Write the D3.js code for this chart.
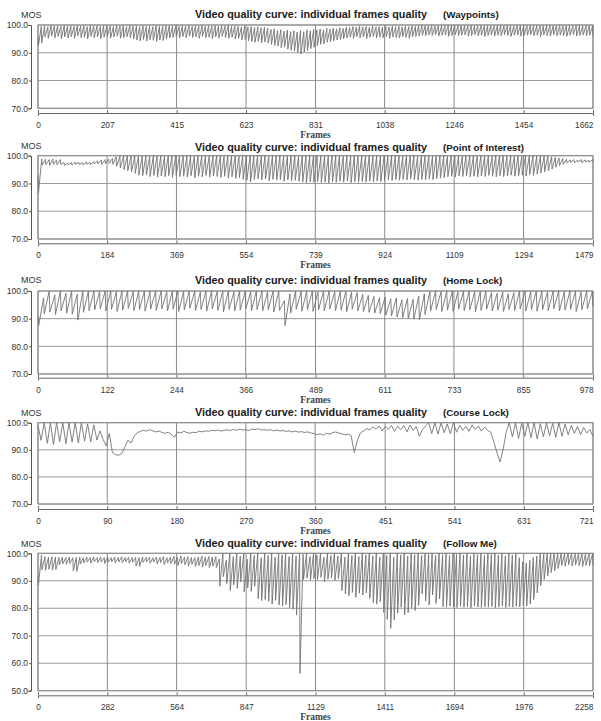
<!DOCTYPE html>
<html>
<head>
<meta charset="utf-8">
<style>
	body{margin:0;background:#fff;}
	svg{display:block;font-family:"Liberation Sans",Arial,sans-serif;}
</style>
</head>
<body>
<script src="https://d3js.org/d3.v7.min.js"></script>
<script>
// ---- data ----
let mainTitle = "Video quality curve: individual frames quality"
let scenarios = ["(Waypoints)", "(Point of Interest)", "(Home Lock)", "(Course Lock)", "(Follow Me)"]
let frameTotals = [1662, 1479, 978, 721, 2258]
let xTickLabels = [
	[0, 207, 415, 623, 831, 1038, 1246, 1454, 1662],
	[0, 184, 369, 554, 739, 924, 1109, 1294, 1479],
	[0, 122, 244, 366, 489, 611, 733, 855, 978],
	[0, 90, 180, 270, 360, 451, 541, 631, 721],
	[0, 282, 564, 847, 1129, 1411, 1694, 1976, 2258]
]
let yTickValues = [
	[70, 80, 90, 100],
	[70, 80, 90, 100],
	[70, 80, 90, 100],
	[70, 80, 90, 100],
	[50, 60, 70, 80, 90, 100]
]

// MOS samples: peak / dip pairs per GOP (Course Lock: plain samples)
let mosWaypoints = [
	95.5,92.5, 99.5,93.5, 99.7,95.8, 99.4,95.2, 99.8,96.0, 99.6,95.4, 99.7,95.9, 99.5,95.1, 99.8,95.7, 99.6,95.3,
	99.7,95.8, 99.5,95.2, 99.8,96.1, 99.6,95.5, 99.7,95.6, 99.4,95.0, 99.8,95.9, 99.6,95.4, 99.7,95.7, 99.5,95.1,
	99.8,95.6, 99.6,95.9, 99.7,95.3, 99.5,95.7, 99.8,96.0, 99.6,95.2, 99.7,95.5, 99.4,95.8, 99.8,95.4, 99.6,95.0,
	99.6,94.6, 99.4,94.3, 99.7,94.8, 99.5,94.2, 99.6,94.7, 99.4,94.5, 99.7,94.1, 99.5,94.6, 99.6,94.4, 99.7,94.9,
	99.7,95.3, 99.6,95.5, 99.8,95.9, 99.5,95.3, 99.7,95.8, 99.6,95.4, 99.8,96.0, 99.5,95.5, 99.7,95.7, 99.6,95.2,
	99.8,95.9, 99.5,95.4, 99.7,95.6, 99.6,95.1, 99.8,95.7, 99.5,95.3, 99.7,95.9, 99.6,95.5, 99.8,95.2, 99.5,95.6,
	99.6,95.0, 99.5,95.2, 99.3,94.6, 99.6,94.8, 99.2,94.3, 99.4,94.0, 99.1,93.8, 99.3,94.1, 99.0,93.6, 99.2,93.9,
	98.8,93.5, 98.4,93.0, 98.6,92.6, 98.0,92.4, 98.3,91.8, 97.8,92.0, 98.2,91.3, 97.6,90.9, 97.9,90.6, 97.5,90.1,
	98.0,89.6, 97.6,90.2, 98.3,90.8, 97.9,91.5, 98.5,92.0, 98.2,92.5, 98.6,93.0, 98.3,93.2, 98.8,93.8, 98.5,94.0,
	98.9,94.3, 98.6,94.6, 99.0,94.8, 98.8,95.0, 99.3,95.3, 99.1,95.6, 99.4,95.2, 99.2,95.8, 99.5,95.4, 99.3,95.7,
	99.4,95.1, 99.2,95.6, 99.5,95.9, 99.3,95.3, 99.4,95.6, 99.2,95.4, 99.5,95.8, 99.3,95.2, 99.6,95.7, 99.4,95.5,
	99.5,95.3, 99.3,95.8, 99.6,95.5, 99.4,95.2, 99.6,95.7, 99.5,95.9, 99.7,96.0, 99.8,96.3, 99.7,96.1, 99.8,96.4,
	99.8,96.2, 99.7,96.5, 99.8,96.0, 99.8,96.3, 99.7,96.4, 99.8,95.9, 99.8,96.2, 99.7,96.5, 99.8,96.1, 99.8,96.3,
	99.7,96.4, 99.8,96.0, 99.8,96.2, 99.7,96.5, 99.8,96.1, 99.8,96.3, 99.7,95.8, 99.8,96.2, 99.8,96.4, 99.7,96.0,
	99.8,96.3, 99.8,96.1, 99.7,96.5, 99.8,96.2, 99.8,95.9, 99.7,96.3, 99.8,96.4, 99.8,96.0, 99.7,96.2, 99.8,96.3,
	99.8,96.5, 99.7,96.1, 99.8,96.3, 99.8,95.8, 99.7,96.4, 99.8,96.2, 99.8,96.0, 99.7,96.5, 99.8,96.1, 99.8,96.4,
	99.7,96.2, 99.8,95.9, 99.8,96.3, 99.7,96.5, 99.8,96.0, 99.8,96.2, 99.7,96.4, 99.8,96.1, 99.8,96.3, 99.7,96.0
]
let mosPointOfInterest = [
	93.0,86.5, 98.8,96.6, 98.7,96.8, 98.6,96.5, 98.8,96.9, 98.5,96.7, 98.6,96.8, 97.6,96.5, 97.4,96.7, 97.5,96.6,
	97.7,96.9, 97.6,96.8, 97.5,96.6, 97.8,96.9, 97.6,96.7, 97.9,97.0, 98.2,97.0, 98.5,96.8, 98.6,97.1, 98.8,97.2,
	99.0,96.9, 99.6,96.2, 99.8,95.6, 99.9,95.0, 100,94.6, 100,94.2, 99.9,93.6, 100,93.0, 99.8,92.8, 100,93.0,
	99.8,92.5, 100,92.9, 99.9,92.3, 100,92.7, 99.8,92.4, 100,92.8, 99.9,92.2, 100,92.9, 99.8,92.5, 100,92.6,
	99.9,92.3, 100,92.8, 99.8,92.1, 100,92.6, 99.9,92.4, 100,92.9, 99.8,92.3, 100,92.7, 99.9,92.5, 100,92.2,
	99.8,92.6, 100,92.0, 99.9,92.4, 100,91.8, 99.8,92.1, 100,91.5, 99.9,91.2, 100,90.6, 99.8,91.4, 100,91.7,
	99.9,91.3, 100,91.6, 99.8,91.0, 100,91.5, 99.9,91.2, 100,91.4, 99.8,90.8, 100,91.3, 99.9,90.9, 100,91.1,
	99.8,90.8, 100,90.5, 99.9,90.3, 100,90.6, 99.8,90.4, 100,90.7, 99.9,90.3, 100,90.5, 99.8,90.2, 100,90.6,
	99.9,90.4, 100,90.8, 99.8,90.5, 100,90.9, 99.9,90.3, 100,90.6, 99.8,90.4, 100,90.7, 99.9,90.5, 100,90.8,
	99.8,90.6, 100,90.9, 99.9,90.7, 100,91.0, 99.8,91.3, 100,91.1, 99.9,91.4, 100,91.2, 99.8,91.5, 100,91.3,
	99.9,91.6, 100,91.4, 99.8,91.2, 100,91.5, 99.9,91.3, 100,91.6, 99.8,91.4, 100,91.7, 99.9,91.9, 100,92.1,
	99.8,92.4, 100,92.6, 99.9,92.3, 100,92.7, 99.8,92.5, 100,92.8, 99.9,92.4, 100,92.6, 99.8,92.3, 100,92.7,
	99.9,92.5, 100,92.9, 99.8,92.6, 100,92.4, 99.9,92.8, 100,92.5, 99.8,92.7, 100,93.0, 99.9,92.6, 100,92.8,
	99.8,93.0, 100,92.7, 99.9,93.2, 100,92.9, 99.8,93.4, 100,93.8, 99.9,94.2, 99.8,94.6, 99.6,95.2, 99.4,95.8,
	99.2,96.4, 99.0,96.9, 98.7,97.4, 98.5,97.6, 98.6,97.5, 98.4,97.7, 98.6,97.5, 98.5,97.8, 98.3,97.6, 98.6,97.8
]
let mosHomeLock = [
	91.0,87.5, 97.5,91.8, 100,92.4, 98.6,91.5, 100,92.8, 99.2,92.0, 100,91.6, 98.8,89.5, 100,92.3, 100,92.9,
	100,93.2, 99.8,93.6, 100,92.8, 100,93.4, 99.7,92.6, 100,93.1, 100,93.7, 99.8,92.9, 100,93.3, 100,92.7,
	99.8,93.5, 100,93.0, 100,93.6, 99.7,92.8, 100,93.4, 100,92.6, 99.8,93.2, 100,93.8, 100,92.9, 99.7,93.3,
	100,92.7, 100,93.5, 99.8,93.0, 100,92.5, 100,93.4, 99.7,92.8, 100,93.1, 100,93.6, 99.8,92.9, 100,93.3,
	100,92.8, 99.7,93.2, 100,92.4, 100,93.0, 96.5,87.5, 99.0,92.0, 100,93.4, 99.8,92.7, 100,93.2, 100,92.6,
	99.7,93.3, 100,92.8, 100,93.5, 99.8,92.9, 100,93.1, 100,92.5, 99.6,93.4, 99.4,92.8, 98.8,92.6, 98.4,92.3,
	98.0,92.0, 97.6,91.8, 97.8,91.3, 97.2,91.0, 97.5,90.6, 96.8,90.4, 97.3,90.1, 97.0,89.8, 98.2,89.6, 99.0,91.5,
	100,92.8, 100,93.3, 99.8,92.6, 100,93.1, 100,92.7, 99.7,93.4, 100,92.9, 100,93.2, 99.8,92.5, 100,93.0,
	100,93.4, 99.5,92.8, 99.2,93.1, 99.6,92.6, 99.0,93.3, 99.4,92.9, 100,93.5, 100,92.8, 99.8,93.2, 100,92.7,
	100,93.3, 99.7,92.9, 100,93.6, 100,92.8, 99.8,93.1, 100,93.4, 100,92.6, 99.7,93.2, 100,93.5, 99.8,94.5
]
let mosCourseLock = [
	99.0,93.5, 100,92.4, 100,92.0, 100,93.0, 100,92.3, 100,92.8, 100,92.5, 100,93.2, 99.6,92.9, 99.2,93.6,
	97.0,93.8, 91.5,96.0, 89.0,88.2, 88.0,88.6, 91.0,93.5,
	92.5,95.0, 96.3,96.8, 97.2,96.9, 97.4,97.0, 96.6,96.9, 96.4,96.1, 96.5,95.7, 94.6,
	96.6,96.2, 96.8,96.4, 96.1,96.5, 96.3,96.9, 96.6,97.0, 96.8,97.2,
	97.0,97.3, 96.9,97.2, 97.4,97.1, 97.5,97.2, 97.6,97.3, 97.4,97.1, 97.7,97.4, 97.8,97.3, 97.5,97.2,
	97.4,97.0, 97.3,96.9, 97.1,96.8, 97.0,96.6, 96.9,96.5,
	96.7,96.4, 96.6,96.2, 96.0,95.6, 95.9,95.4, 96.1,95.8, 96.3,96.6, 96.2,95.9, 95.5,95.8, 95.2,
	89.0,93.5, 96.2,
	97.0,97.8, 97.3,98.5, 97.6,98.8, 96.9,98.6, 97.5,99.0, 96.8,98.7, 97.4,98.9, 96.6,99.1, 97.2,98.6, 95.0,97.5, 98.8,
	100,96.0, 100,95.8, 100,96.3, 99.5,96.0, 100,96.5,
	99.0,97.2, 98.6,96.8, 99.2,97.5, 98.8,96.9, 98.4,97.2,
	96.5,93.0, 89.0,85.5, 90.0,96.5,
	100,94.8, 100,94.2, 99.8,95.0, 100,94.5, 100,94.0, 99.6,94.8, 100,95.2, 99.8,94.6, 100,95.0, 99.5,95.5,
	99.0,96.0, 98.6,95.6, 98.2,96.2, 97.5,95.0
]
let mosFollowMe = [
	92.0,88.5, 99.3,94.0, 98.8,93.8, 98.6,94.2, 98.7,93.9, 98.6,94.1, 98.5,95.8, 98.6,96.2, 98.4,96.0, 98.6,96.3,
	98.4,93.6, 98.5,93.4, 98.6,96.1, 98.4,96.5, 98.6,96.8, 98.5,96.4, 98.7,96.9, 98.4,96.6, 98.6,96.8, 98.5,96.3,
	98.7,96.7, 98.4,96.9, 98.6,96.5, 98.5,96.8, 98.7,96.6, 98.4,96.9, 98.6,96.4, 98.5,96.7, 98.5,95.4, 98.4,95.2,
	98.7,96.7, 98.5,96.9, 98.6,96.4, 98.4,96.8, 98.7,96.2, 98.5,96.6, 98.8,95.9, 98.4,96.5, 98.6,96.3, 98.9,96.0,
	98.5,95.6, 99.0,96.3, 98.6,95.8, 98.8,95.4, 98.5,96.0, 98.4,95.2, 98.7,95.5, 98.9,95.0, 98.6,95.6, 98.8,94.8,
	98.6,95.3, 98.8,94.8, 98.0,88.0, 100,91.5, 97.5,89.0, 100,86.5, 98.8,88.5, 100,87.2, 99.0,89.6, 100,86.0,
	97.8,87.4, 100,86.2, 99.2,88.0, 100,83.5, 98.4,82.8, 100,83.2, 99.2,82.5, 100,81.6, 98.6,82.9, 100,81.2,
	99.5,80.8, 100,81.4, 98.8,80.2, 100,79.6, 99.0,77.5, 100,56.3, 99.6,90.5, 100,91.0, 98.8,90.2, 100,90.8,
	99.4,90.4, 100,91.2, 98.6,89.6, 100,90.6, 99.2,91.0, 100,90.2, 99.0,90.8, 100,86.4, 98.6,85.2, 100,84.6,
	99.2,85.8, 100,84.0, 98.8,85.5, 100,84.8, 99.4,85.6, 100,83.6, 99.0,82.0, 100,81.5, 98.6,82.4, 100,78.5,
	99.2,76.0, 100,72.7, 98.5,75.8, 100,78.2, 99.4,80.4, 100,77.6, 99.0,78.4, 100,80.2, 99.5,79.2, 100,81.0,
	99.2,85.2, 100,82.6, 99.6,81.2, 100,84.8, 99.3,81.8, 100,83.4, 99.5,80.6, 100,80.4, 99.2,80.8, 100,80.5,
	99.6,80.3, 100,80.7, 99.4,80.4, 100,80.6, 99.1,80.2, 100,80.8, 99.5,80.5, 100,80.3, 99.2,80.6, 100,80.4,
	99.6,80.7, 100,80.2, 99.4,80.5, 100,80.8, 99.0,80.3, 100,80.6, 99.4,80.4, 100,80.7, 98.4,80.5, 97.0,81.0,
	96.5,80.8, 97.4,81.5, 98.5,83.2, 99.0,85.6, 100,88.2, 100,90.5, 100,91.8, 99.8,93.0, 100,93.6, 100,94.5,
	100,95.6, 99.8,95.3, 100,95.8, 100,95.4, 99.9,95.7, 100,95.5, 100,95.2, 99.8,95.6, 100,95.4, 100,95.7
]
let mosSeries = [mosWaypoints, mosPointOfInterest, mosHomeLock, mosCourseLock, mosFollowMe]

// ---- layout of the five stacked panels ----
var width = 601, height = 721
let plotLeft = 38, plotRight = 593
let panels = [
	{top: 25, bottom: 108.3, axisY: 113, titleY: 18, mosY: 18, saw: true},
	{top: 155.7, bottom: 239, axisY: 243.3, titleY: 151, mosY: 149, saw: true},
	{top: 291, bottom: 374, axisY: 377.7, titleY: 284, mosY: 283, saw: true},
	{top: 422.7, bottom: 504, axisY: 509, titleY: 416, mosY: 416, saw: false},
	{top: 553.3, bottom: 690.7, axisY: 695.3, titleY: 547, mosY: 547, saw: true}
]
let dipAt = 0.12   // where the dip sits inside a GOP

var svg = d3.select("body")
	.append("svg")
	.attr("width", width)
	.attr("height", height)

svg.append("rect").attr("width", width).attr("height", height).attr("fill", "#fff")

panels.forEach((p, k) => {
	let ticksY = yTickValues[k]
	let xscale = d3.scaleLinear()
		.domain([0, frameTotals[k]])
		.range([plotLeft, plotRight])
	let yscale = d3.scaleLinear()
		.domain([d3.min(ticksY), d3.max(ticksY)])
		.range([p.bottom, p.top])

	let g = svg.append("g")

	// grid
	g.selectAll(".hgrid")
		.data(ticksY)
		.enter()
		.append("line")
		.attr("x1", plotLeft).attr("x2", plotRight)
		.attr("y1", d => yscale(d)).attr("y2", d => yscale(d))
		.attr("stroke", "#9a9a9a").attr("stroke-width", 1)
	g.selectAll(".vgrid")
		.data(xTickLabels[k])
		.enter()
		.append("line")
		.attr("x1", d => xscale(d)).attr("x2", d => xscale(d))
		.attr("y1", p.top).attr("y2", p.bottom)
		.attr("stroke", "#8a8a8a").attr("stroke-width", 1)
	g.append("rect")
		.attr("x", plotLeft).attr("y", p.top)
		.attr("width", plotRight - plotLeft).attr("height", p.bottom - p.top)
		.attr("fill", "none").attr("stroke", "#8a8a8a")

	// quality curve
	let vals = mosSeries[k]
	let frameOf
	if (p.saw) {
		let gop = frameTotals[k] / (vals.length / 2 - 1 + dipAt)
		frameOf = i => (Math.floor(i / 2) + (i % 2) * dipAt) * gop
	} else {
		let step = frameTotals[k] / (vals.length - 1)
		frameOf = i => i * step
	}
	let line = d3.line()
		.x((d, i) => xscale(frameOf(i)))
		.y(d => yscale(d))
	g.append("path")
		.datum(vals)
		.attr("d", line)
		.attr("fill", "none")
		.attr("stroke", "#747474")
		.attr("stroke-width", 0.9)

	// axes
	let ya = g.append("g")
		.attr("transform", "translate(31,0)")
		.call(d3.axisLeft(yscale).tickValues(ticksY).tickSize(2).tickSizeOuter(3).tickPadding(1).tickFormat(d3.format(".1f")))
	ya.selectAll("text").attr("font-size", 8.5).attr("fill", "#333").attr("font-family", "Liberation Sans, Arial")
	ya.selectAll("path,line").attr("stroke", "#555")

	let xa = g.append("g")
		.attr("transform", `translate(0,${p.axisY})`)
		.call(d3.axisBottom(xscale).tickValues(xTickLabels[k]).tickSizeInner(-3).tickSizeOuter(3).tickPadding(9).tickFormat(d3.format("d")))
	xa.selectAll("text").attr("font-size", 8.3).attr("fill", "#333").attr("font-family", "Liberation Sans Narrow, Arial Narrow, Liberation Sans")
	xa.selectAll("path,line").attr("stroke", "#666")
	xa.selectAll(".tick:last-of-type text").attr("text-anchor", "end")

	// titles
	svg.append("text")
		.attr("x", 21).attr("y", p.mosY)
		.attr("font-size", 9).attr("fill", "#333")
		.text("MOS")
	svg.append("text")
		.attr("x", 195).attr("y", p.titleY)
		.attr("font-size", 10.8).attr("font-weight", "bold").attr("fill", "#1a1a1a")
		.text(mainTitle)
	svg.append("text")
		.attr("x", 443).attr("y", p.titleY)
		.attr("font-size", 9.8).attr("font-weight", "bold").attr("fill", "#1a1a1a")
		.text(scenarios[k])
	svg.append("text")
		.attr("x", xscale(frameTotals[k] / 2)).attr("y", Math.min(p.axisY + 25, 719.5))
		.attr("text-anchor", "middle")
		.attr("font-family", "Liberation Serif, Times New Roman, serif")
		.attr("font-size", 9.5).attr("font-weight", "bold").attr("fill", "#444")
		.text("Frames")
})
</script>
</body>
</html>
